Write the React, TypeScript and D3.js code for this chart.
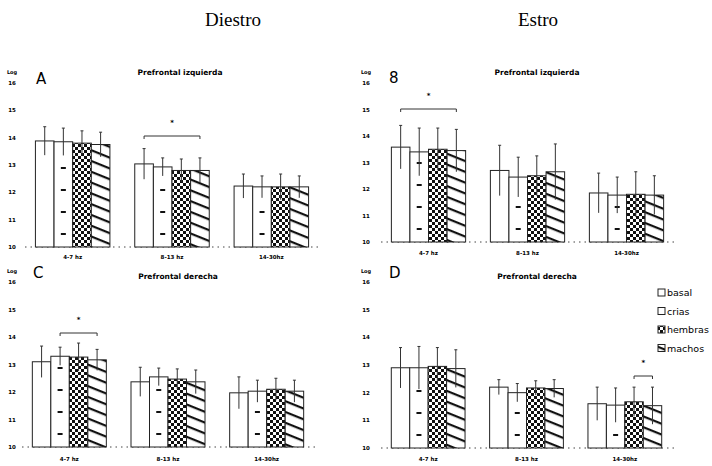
import React from "react";
import * as d3 from "d3";

const categories = ["4-7 hz", "8-13 hz", "14-30hz"];
const series = ["basal", "crias", "hembras", "machos"];
const yTicks = [10, 11, 12, 13, 14, 15, 16];

// means per group: [basal, crias, hembras, machos]
const meansA = [[13.88, 13.85, 13.8, 13.75], [13.04, 12.93, 12.8, 12.8], [12.23, 12.2, 12.2, 12.2]];
const errA = [[0.52, 0.5, 0.45, 0.45], [0.56, 0.33, 0.42, 0.46], [0.44, 0.4, 0.47, 0.4]];
const meansB = [[13.58, 13.4, 13.5, 13.45], [12.7, 12.45, 12.5, 12.65], [11.85, 11.77, 11.8, 11.77]];
const errB = [[0.82, 0.9, 0.8, 0.8], [0.95, 0.75, 0.75, 1.05], [0.75, 0.68, 0.85, 0.73]];
const meansC = [[13.1, 13.3, 13.27, 13.17], [12.37, 12.55, 12.47, 12.37], [11.97, 12.03, 12.1, 12.03]];
const errC = [[0.57, 0.33, 0.51, 0.38], [0.53, 0.32, 0.37, 0.43], [0.58, 0.4, 0.4, 0.4]];
const meansD = [[12.9, 12.9, 12.95, 12.87], [12.2, 12.0, 12.17, 12.15], [11.6, 11.55, 11.67, 11.53]];
const errD = [[0.73, 0.77, 0.68, 0.68], [0.27, 0.33, 0.26, 0.32], [0.6, 0.62, 0.53, 0.67]];

const fills = ["#fff", "#fff", "url(#checkP)", "url(#stripeP)"];
const sans = "'DejaVu Sans', sans-serif";

type PanelProps = {
  letter: string;
  title: string;
  means: number[][];
  errs: number[][];
  xRange: [number, number];
  yRange: [number, number];
  axisX: number;
  titleX: number;
  titleY: number;
  letterX: number;
  letterY: number;
  labelY: number;
  sig: { g: number; from: number; to: number; y: number };
};

function Panel(p: PanelProps) {
  const x = d3.scaleBand<string>().domain(categories).range(p.xRange).paddingInner(0.25).paddingOuter(0.125);
  const xs = d3.scaleBand<string>().domain(series).range([0, x.bandwidth()]);
  const y = d3.scaleLinear().domain([10, 16]).range(p.yRange);
  const base = y(10);
  const bw = xs.bandwidth();
  const gx = (g: number) => x(categories[g]) as number;
  const sx1 = gx(p.sig.g) + (xs(series[p.sig.from]) as number) + bw / 2;
  const sx2 = gx(p.sig.g) + (xs(series[p.sig.to]) as number) + bw / 2;
  return (
    <g>
      <text x={p.letterX} y={p.letterY} fontFamily={sans} fontSize={15}>{p.letter}</text>
      <text x={p.titleX} y={p.titleY} fontFamily={sans} fontSize={7.5} fontWeight="bold" textAnchor="middle">{p.title}</text>
      <text x={p.axisX} y={y(16) - 9} fontFamily={sans} fontSize={5} fontWeight="bold" textAnchor="middle">Log</text>
      {yTicks.map((t) => (
        <text key={t} x={p.axisX} y={y(t) + 2} fontFamily={sans} fontSize={5.5} fontWeight="bold" textAnchor="middle">{t}</text>
      ))}
      <line x1={p.xRange[0] + 2} x2={p.xRange[1]} y1={base} y2={base} stroke="#444" strokeWidth={1} strokeDasharray="1.5,4" />
      {categories.map((c, g) => (
        <g key={c}>
          {series.map((s, i) => {
            const bx = gx(g) + (xs(s) as number);
            const top = y(p.means[g][i]);
            const dashes: number[] = [];
            if (i === 1) {
              for (let yy = base - 14; yy > top + 8; yy -= 22) dashes.push(yy);
            }
            return (
              <g key={s}>
                <rect x={bx} y={top} width={bw} height={base - top} fill={fills[i]} stroke="#222" strokeWidth={1} />
                {dashes.map((yy) => (
                  <rect key={yy} x={bx + bw / 2 - 2.5} y={yy} width={5} height={2} fill="#111" />
                ))}
              </g>
            );
          })}
          {series.map((s, i) => {
            const cx = gx(g) + (xs(s) as number) + bw / 2;
            const m = p.means[g][i];
            const e = p.errs[g][i];
            return (
              <g key={s + "e"} stroke="#333" strokeWidth={1}>
                <line x1={cx} x2={cx} y1={y(m - e)} y2={y(m + e)} />
                <line x1={cx - 1.5} x2={cx + 1.5} y1={y(m + e)} y2={y(m + e)} />
              </g>
            );
          })}
          <text x={gx(g) + x.bandwidth() / 2} y={p.labelY} fontFamily={sans} fontSize={5.5} fontWeight="bold" textAnchor="middle">{c}</text>
        </g>
      ))}
      <line x1={sx1} x2={sx2} y1={p.sig.y} y2={p.sig.y} stroke="#333" strokeWidth={1} />
      <line x1={sx1} x2={sx1} y1={p.sig.y} y2={p.sig.y + 3} stroke="#333" strokeWidth={1} />
      <line x1={sx2} x2={sx2} y1={p.sig.y} y2={p.sig.y + 3} stroke="#333" strokeWidth={1} />
      <text x={(sx1 + sx2) / 2} y={p.sig.y - 11} fontFamily={sans} fontSize={7} fontWeight="bold" textAnchor="middle">*</text>
    </g>
  );
}

export default function App() {
  return (
    <svg width={712} height={466} style={{ position: "absolute", left: 0, top: 0, background: "#fff" }}>
      <defs>
        <pattern id="checkP" width={6} height={6} patternUnits="userSpaceOnUse">
          <rect width={6} height={6} fill="#fff" />
          <rect x={0} y={0} width={3} height={3} fill="#111" />
          <rect x={3} y={3} width={3} height={3} fill="#111" />
        </pattern>
        <pattern id="stripeP" width={10} height={10} patternUnits="userSpaceOnUse" patternTransform="rotate(22)">
          <rect width={10} height={10} fill="#fff" />
          <rect x={0} y={4} width={10} height={2.2} fill="#111" />
        </pattern>
      </defs>
      <text x={233} y={26} fontFamily="'Liberation Serif', serif" fontSize={19} textAnchor="middle">Diestro</text>
      <text x={538} y={26} fontFamily="'Liberation Serif', serif" fontSize={19} textAnchor="middle">Estro</text>
      <Panel letter="A" title="Prefrontal izquierda" means={meansA} errs={errA} xRange={[23, 321]} yRange={[247, 83]}
        axisX={12} titleX={180} titleY={75} letterX={36} letterY={84} labelY={259}
        sig={{ g: 1, from: 0, to: 3, y: 136 }} />
      <Panel letter="8" title="Prefrontal izquierda" means={meansB} errs={errB} xRange={[379, 676]} yRange={[242, 83]}
        axisX={366} titleX={537} titleY={75} letterX={389} letterY={83} labelY={255}
        sig={{ g: 0, from: 0, to: 3, y: 109 }} />
      <Panel letter="C" title="Prefrontal derecha" means={meansC} errs={errC} xRange={[20, 316]} yRange={[447, 282]}
        axisX={12} titleX={178} titleY={279} letterX={33} letterY={278} labelY={461}
        sig={{ g: 0, from: 1, to: 3, y: 333 }} />
      <Panel letter="D" title="Prefrontal derecha" means={meansD} errs={errD} xRange={[379, 674]} yRange={[448, 282]}
        axisX={366} titleX={537} titleY={279} letterX={389} letterY={278} labelY={461}
        sig={{ g: 2, from: 2, to: 3, y: 376 }} />
      {series.map((s, i) => (
        <g key={s}>
          <rect x={658} y={289 + i * 18.5} width={7} height={7} fill={fills[i]} stroke="#222" strokeWidth={1} />
          <text x={667} y={296 + i * 18.5} fontFamily={sans} fontSize={9.5}>{s}</text>
        </g>
      ))}
    </svg>
  );
}
